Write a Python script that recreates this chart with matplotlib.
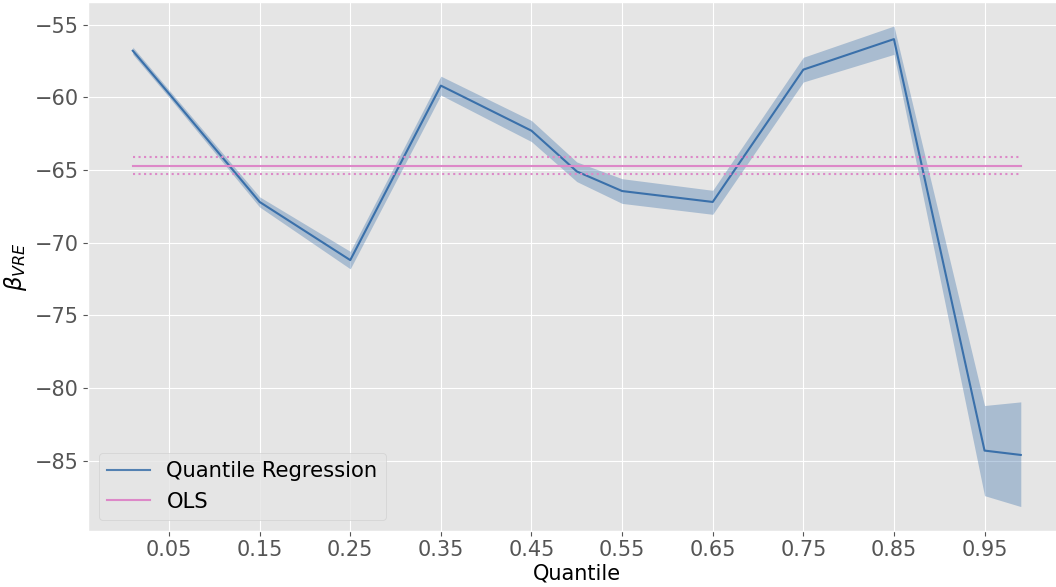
import numpy as np
import matplotlib
matplotlib.use('Agg')
import matplotlib.pyplot as plt
from matplotlib.lines import Line2D

plt.style.use('ggplot')

# quantile regression coefficients with confidence band
quantiles = [0.01, 0.05, 0.15, 0.25, 0.35, 0.45, 0.50, 0.55, 0.65, 0.75, 0.85, 0.95, 0.99]
coef = [-56.8, -59.75, -67.2, -71.2, -59.2, -62.3, -65.1, -66.45, -67.2, -58.1, -56.0, -84.3, -84.6]
lower = [-57.05, -60.0, -67.55, -71.8, -59.85, -63.05, -65.8, -67.3, -68.05, -58.95, -57.05, -87.4, -88.15]
upper = [-56.55, -59.5, -66.85, -70.6, -58.55, -61.6, -64.45, -65.6, -66.4, -57.25, -55.1, -81.2, -80.95]

# OLS estimate and its confidence interval
ols_coef = -64.7
ols_lower = -65.3
ols_upper = -64.13

xticks = [0.05, 0.15, 0.25, 0.35, 0.45, 0.55, 0.65, 0.75, 0.85, 0.95]

qr_color = '#3a70aa'
ols_color = '#dd88c8'

fig = plt.figure(figsize=(10.56, 5.87), dpi=100)
ax = fig.add_axes([0.0837, 0.0961, 0.925, 0.9005])

ax.plot(quantiles, coef, color=qr_color, lw=1.5)
ax.fill_between(quantiles, lower, upper, color=qr_color, alpha=0.35, lw=0)

q0, q1 = quantiles[0], quantiles[-1]
ax.plot([q0, q1], [ols_coef, ols_coef], color=ols_color, lw=1.5)
ax.plot([q0, q1], [ols_lower, ols_lower], color=ols_color, lw=1.5, ls=':')
ax.plot([q0, q1], [ols_upper, ols_upper], color=ols_color, lw=1.5, ls=':')

ax.set_xticks(xticks)
ax.set_xticklabels([f'{t:.2f}' for t in xticks])
ax.tick_params(axis='both', labelsize=15, colors='#555555')
ax.set_xlabel('Quantile', fontsize=15, color='black', labelpad=2)
ax.set_ylabel(r'$\beta_{VRE}$', fontsize=16.5, color='black', labelpad=4)

handles = [Line2D([], [], color=qr_color, lw=1.5, alpha=0.85),
           Line2D([], [], color=ols_color, lw=1.5)]
ax.legend(handles, ['Quantile Regression', 'OLS'], loc='lower left', fontsize=15.2)

fig.savefig('out.png', dpi=100)
